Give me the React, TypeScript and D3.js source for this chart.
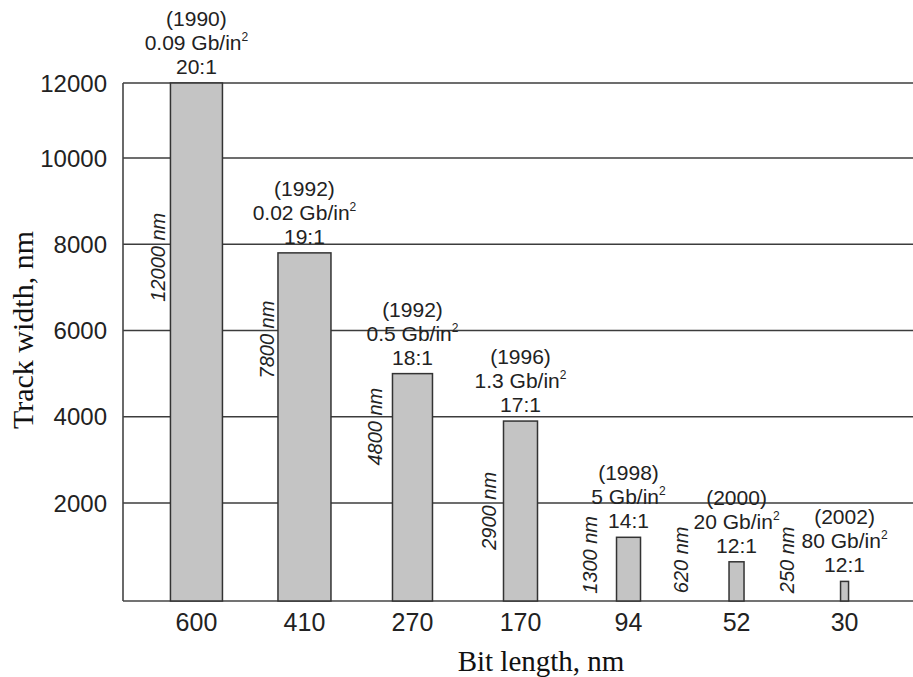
import { useEffect, useRef } from "react";
import * as d3 from "d3";

// bit length categories (x axis)
const bitLengths = ["600", "410", "270", "170", "94", "52", "30"];
// track width as drawn (bar heights, nm)
const trackWidths = [12000, 7800, 5000, 3900, 1300, 800, 400];
// labels written beside each bar
const trackLabels = ["12000 nm", "7800 nm", "4800 nm", "2900 nm", "1300 nm", "620 nm", "250 nm"];
const years = ["(1990)", "(1992)", "(1992)", "(1996)", "(1998)", "(2000)", "(2002)"];
const densities = ["0.09", "0.02", "0.5", "1.3", "5", "20", "80"];
const ratios = ["20:1", "19:1", "18:1", "17:1", "14:1", "12:1", "12:1"];
const yTicks = [2000, 4000, 6000, 8000, 10000, 12000];

// layout only
const barWidths = [52, 53, 40, 34, 24, 15, 8];
const sideDx = [-39, -38, -38, -32, -39, -56, -58];
const sideAt = [7700, 5790, 3770, 1840, 940, 840, 840];

const W = 913;
const H = 677;
const left = 123;
const bottom = 601;
const top = 83;

const sans = "'Liberation Sans', Arial, sans-serif";
const serif = "'Liberation Serif', 'Times New Roman', serif";

export default function App() {
  const svgRef = useRef<SVGSVGElement | null>(null);

  useEffect(() => {
    if (!svgRef.current) return;
    const svg = d3.select(svgRef.current);
    svg.selectAll("*").remove();

    const x = d3.scalePoint<string>().domain(bitLengths).range([left, 918]).padding(0.68);
    // the source axis is not evenly spaced: the lowest and highest gaps differ
    const y = d3
      .scaleLinear()
      .domain([0, 2000, 10000, 12000])
      .range([bottom, 503, 158, top]);

    const data = bitLengths.map((b, i) => ({
      b,
      v: trackWidths[i],
      w: barWidths[i],
      side: trackLabels[i],
      year: years[i],
      dens: densities[i],
      ratio: ratios[i],
      dx: sideDx[i],
      at: sideAt[i],
    }));

    // grid lines
    svg
      .append("g")
      .selectAll("line")
      .data(yTicks)
      .join("line")
      .attr("x1", left)
      .attr("x2", W)
      .attr("y1", (d) => y(d))
      .attr("y2", (d) => y(d))
      .attr("stroke", "#3c3c3c")
      .attr("stroke-width", 1.6);

    // axes lines
    svg
      .append("line")
      .attr("x1", left)
      .attr("x2", left)
      .attr("y1", top)
      .attr("y2", bottom)
      .attr("stroke", "#444")
      .attr("stroke-width", 1.6);
    svg
      .append("line")
      .attr("x1", left)
      .attr("x2", W)
      .attr("y1", bottom)
      .attr("y2", bottom)
      .attr("stroke", "#444")
      .attr("stroke-width", 1.6);

    // y tick labels
    svg
      .append("g")
      .selectAll("text")
      .data(yTicks)
      .join("text")
      .attr("x", 107)
      .attr("y", (d) => y(d))
      .attr("dy", "0.36em")
      .attr("text-anchor", "end")
      .attr("font-family", sans)
      .attr("font-size", 24)
      .attr("fill", "#222")
      .text((d) => d);

    // bars
    svg
      .append("g")
      .selectAll("rect")
      .data(data)
      .join("rect")
      .attr("x", (d) => (x(d.b) as number) - d.w / 2)
      .attr("width", (d) => d.w)
      .attr("y", (d) => y(d.v))
      .attr("height", (d) => bottom - y(d.v))
      .attr("fill", "#c4c4c4")
      .attr("stroke", "#333")
      .attr("stroke-width", 1.5);

    // x tick labels
    svg
      .append("g")
      .selectAll("text")
      .data(bitLengths)
      .join("text")
      .attr("x", (d) => x(d) as number)
      .attr("y", 631)
      .attr("text-anchor", "middle")
      .attr("font-family", sans)
      .attr("font-size", 25)
      .attr("fill", "#222")
      .text((d) => d);

    // notes above bars
    const notes = svg
      .append("g")
      .attr("font-family", sans)
      .attr("font-size", 21)
      .attr("fill", "#222")
      .attr("text-anchor", "middle");
    data.forEach((d) => {
      const cx = x(d.b) as number;
      const ty = y(d.v);
      notes.append("text").attr("x", cx).attr("y", ty - 9).text(d.ratio);
      const dt = notes.append("text").attr("x", cx).attr("y", ty - 33);
      dt.append("tspan").text(`${d.dens} Gb/in`);
      dt.append("tspan").attr("font-size", 12).attr("dy", -9).text("2");
      notes.append("text").attr("x", cx).attr("y", ty - 57).text(d.year);
    });

    // rotated labels beside bars
    svg
      .append("g")
      .selectAll("text")
      .data(data)
      .join("text")
      .attr("transform", (d) => `translate(${(x(d.b) as number) + d.dx},${y(d.at)}) rotate(-90)`)
      .attr("text-anchor", "middle")
      .attr("dy", "0.36em")
      .attr("font-family", sans)
      .attr("font-style", "italic")
      .attr("font-size", 20)
      .attr("fill", "#222")
      .text((d) => d.side);

    // axis titles
    svg
      .append("text")
      .attr("transform", `translate(33,330) rotate(-90)`)
      .attr("text-anchor", "middle")
      .attr("font-family", serif)
      .attr("font-size", 30)
      .attr("fill", "#111")
      .text("Track width, nm");
    svg
      .append("text")
      .attr("x", 541)
      .attr("y", 671)
      .attr("text-anchor", "middle")
      .attr("font-family", serif)
      .attr("font-size", 29)
      .attr("fill", "#111")
      .text("Bit length, nm");
  }, []);

  return (
    <div style={{ position: "absolute", left: 0, top: 0, width: W, height: H, background: "#fff" }}>
      <svg ref={svgRef} width={W} height={H} style={{ display: "block" }}></svg>
    </div>
  );
}
